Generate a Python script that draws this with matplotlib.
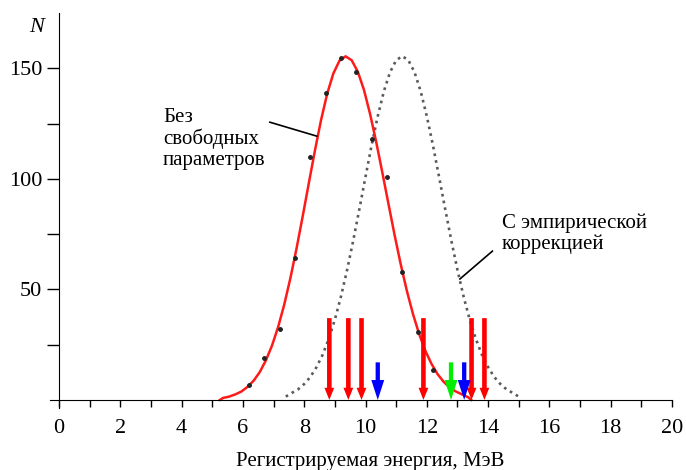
import matplotlib.pyplot as plt
from matplotlib.ticker import MultipleLocator

plt.rcParams['font.family'] = ['Liberation Serif', 'DejaVu Serif']

# curve without free parameters (red)
red_e = [5.25, 5.35, 5.55, 5.75, 5.95, 6.15, 6.35, 6.55, 6.75, 6.95, 7.15, 7.35,
         7.55, 7.75, 7.95, 8.15, 8.35, 8.55, 8.75, 8.95, 9.15, 9.35, 9.55, 9.75,
         9.95, 10.15, 10.35, 10.55, 10.75, 10.95, 11.15, 11.35, 11.55, 11.75,
         11.95, 12.15, 12.35, 12.55, 12.75, 12.95, 13.15, 13.35, 13.45]
red_n = [0, 0.9, 1.5, 2.5, 3.8, 5.9, 8.7, 12.6, 17.9, 24.6, 33.0, 43.2,
         55.1, 68.5, 83.0, 98.0, 112.8, 126.6, 138.5, 147.6, 153.4, 155.4, 153.6, 148.4,
         140.2, 129.3, 116.6, 102.8, 88.6, 74.5, 61.3, 49.3, 38.8, 29.8,
         22.3, 16.4, 11.7, 8.2, 5.6, 3.8, 2.5, 1.2, 0]

# curve with empirical correction (dotted)
dot_e = [7.4, 7.6, 7.8, 8.0, 8.2, 8.4, 8.6, 8.8, 9.0, 9.2, 9.4, 9.6, 9.8, 10.0,
         10.2, 10.4, 10.6, 10.8, 11.0, 11.2, 11.4, 11.6, 11.8, 12.0, 12.2, 12.4,
         12.6, 12.8, 13.0, 13.2, 13.4, 13.6, 13.8, 14.0, 14.2, 14.4, 14.6, 14.8, 15.0]
dot_n = [1.5, 3.2, 4.8, 7.2, 10.4, 14.8, 20.4, 27.6, 36.3, 46.8, 58.8, 72.1, 86.3, 100.9,
         115.2, 128.3, 139.6, 148.2, 153.6, 155.5, 153.6, 148.2, 139.6, 128.3, 115.2, 100.9,
         86.3, 72.1, 58.8, 46.8, 36.3, 27.6, 20.4, 14.8, 10.4, 7.2, 4.8, 3.2, 1.5]

# measured points
pts_e = [6.2, 6.7, 7.2, 7.7, 8.2, 8.7, 9.2, 9.7, 10.2, 10.7, 11.2, 11.7, 12.2]
pts_n = [6.8, 18.8, 32, 64, 110, 138.6, 154.8, 148.4, 118, 101, 58, 30.9, 13.6]

# arrows
red_arrows = [8.82, 9.44, 9.87, 11.89, 13.46, 13.88]
blue_arrows = [10.40, 13.22]
green_arrows = [12.79]

fig = plt.figure(figsize=(6.86, 4.70), dpi=100)
ax = fig.add_axes([0.0726, 0.1326, 0.907, 0.8398])

ax.plot(dot_e, dot_n, color='#5a5a5a', lw=1.9, linestyle=(0, (1, 1.6)))
ax.plot(red_e, red_n, color='#ff1a1a', lw=1.8)
ax.plot(pts_e, pts_n, 'o', color='#222222', ms=2.5)

for x in red_arrows:
    ax.arrow(x, 37, 0, -37, width=0.15, head_width=0.32, head_length=5.5,
             length_includes_head=True, color='#ff0000', lw=0, zorder=5)
for x in blue_arrows:
    ax.arrow(x, 17, 0, -17, width=0.14, head_width=0.42, head_length=9,
             length_includes_head=True, color='#0000ff', lw=0, zorder=5)
for x in green_arrows:
    ax.arrow(x, 17, 0, -17, width=0.14, head_width=0.42, head_length=9,
             length_includes_head=True, color='#00ee00', lw=0, zorder=5)

# labels with leader lines
ax.text(3.39, 132, 'Без\nсвободных\nпараметров', fontsize=15, va='top', ha='left',
        linespacing=1.1)
ax.plot([6.88, 8.41], [125.6, 119.3], color='black', lw=1.2)
ax.text(14.44, 84.5, 'С эмпирической\nкоррекцией', fontsize=15, va='top', ha='left',
        linespacing=1.1)
ax.plot([14.14, 13.08], [67.3, 54.7], color='black', lw=1.2)

ax.set_xlim(-0.3, 20)
ax.set_ylim(-3.5, 175)
for s in ['top', 'right']:
    ax.spines[s].set_visible(False)
ax.spines['left'].set_position(('data', 0))
ax.spines['bottom'].set_position(('data', 0))
ax.spines['left'].set_bounds(-3.5, 175)
ax.spines['bottom'].set_bounds(-0.3, 20)

ax.xaxis.set_major_locator(MultipleLocator(2))
ax.xaxis.set_minor_locator(MultipleLocator(1))
ax.set_yticks([50, 100, 150])
ax.set_yticks([25, 75, 125], minor=True)
ax.tick_params(axis='x', which='both', direction='out', length=5, width=1, pad=9,
               labelsize=16)
ax.tick_params(axis='y', which='both', direction='out', length=9, width=1, pad=3,
               labelsize=16)

ax.set_xlabel('Регистрируемая энергия, МэВ', fontsize=15, labelpad=10)
ax.xaxis.label.set_x(0.515)
fig.text(37 / 686, 1 - 28 / 470, 'N', fontsize=16, style='italic', ha='center',
         va='center')

fig.savefig('out.png', dpi=100)
